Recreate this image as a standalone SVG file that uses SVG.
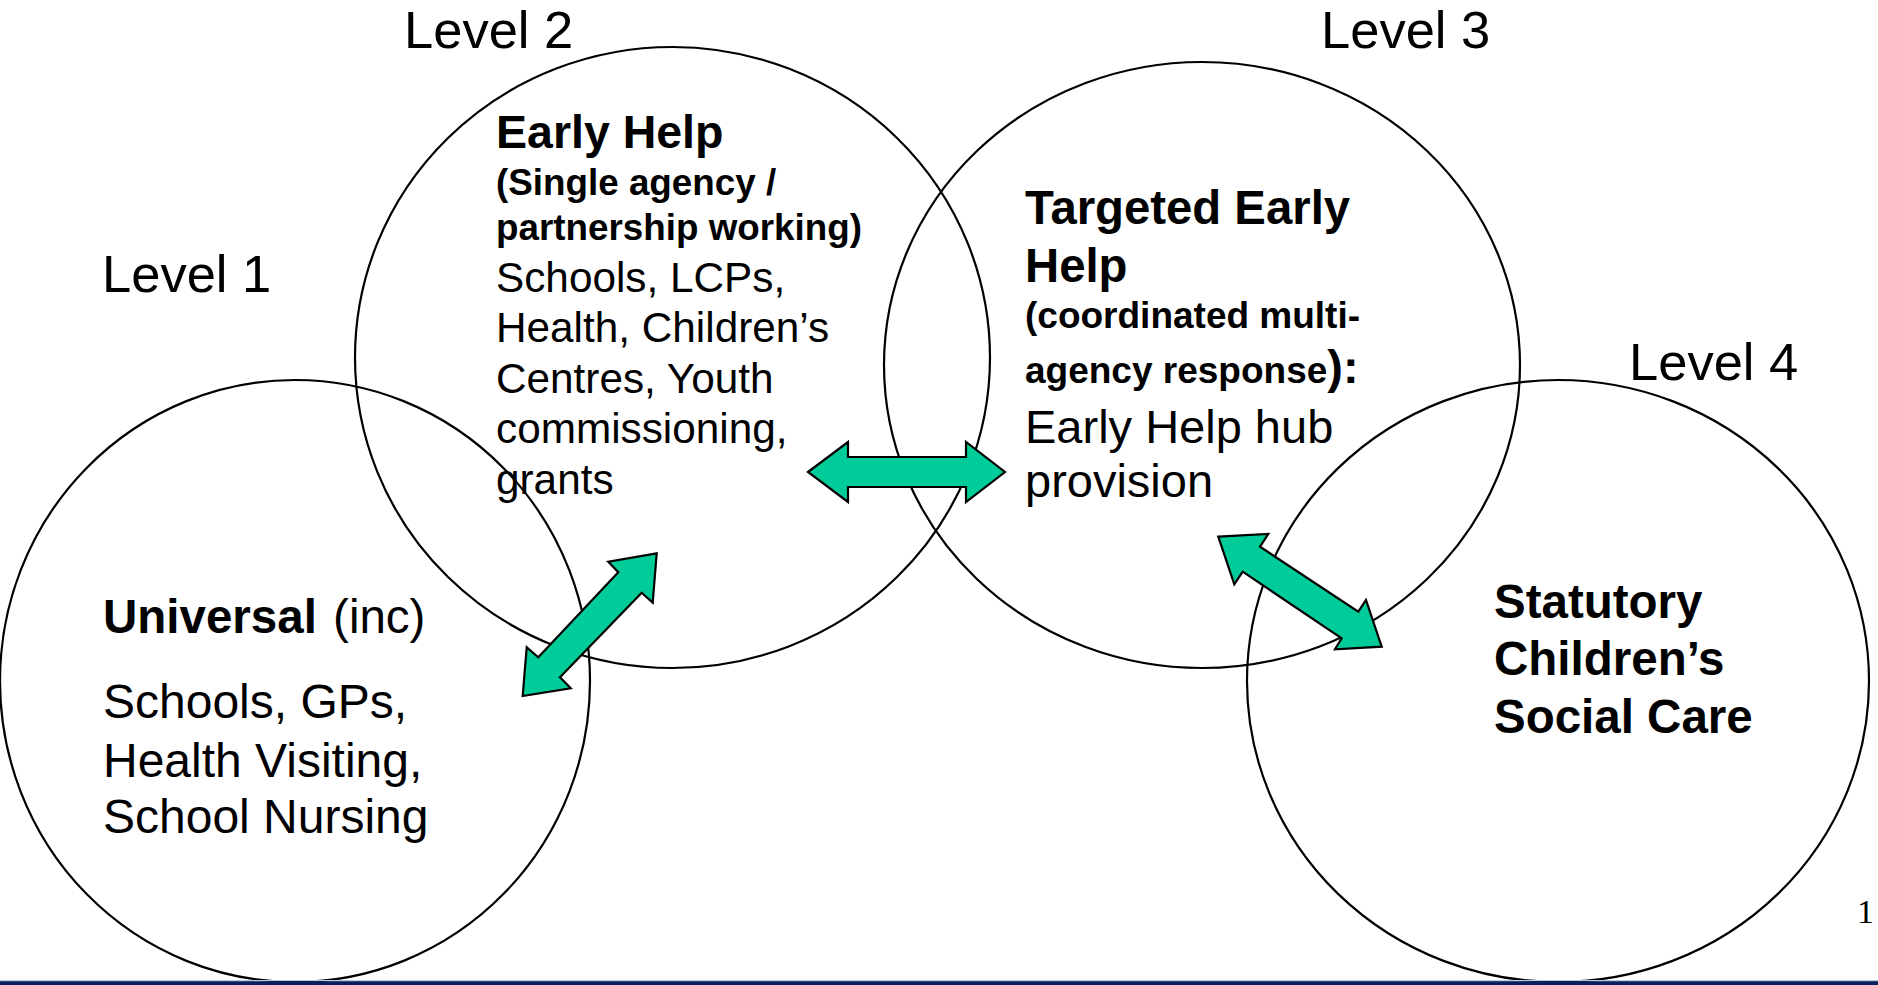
<svg xmlns="http://www.w3.org/2000/svg" width="1878" height="985" viewBox="0 0 1878 985">
<style>
.c{fill:none;stroke:#000;stroke-width:2.2}
.t{font-family:"Liberation Sans",Arial,sans-serif;fill:#000}
.b{font-weight:bold}
.lv{font-size:52.5px}
.arr{fill:#00CC99;stroke:#000;stroke-width:2.2;stroke-linejoin:miter}
</style>
<rect width="1878" height="985" fill="#fff"/>
<g id="level1">
<ellipse class="c" cx="295" cy="681" rx="295" ry="301"/>
<text class="t lv" x="102" y="292">Level 1</text>
<text class="t" x="103" y="633" font-size="47.5"><tspan class="b">Universal</tspan> <tspan dx="3">(inc)</tspan></text>
<text class="t" font-size="48"><tspan x="103" y="718">Schools, GPs,</tspan><tspan x="103" y="777">Health Visiting,</tspan><tspan x="103" y="833">School Nursing</tspan></text>
</g>
<g id="level2">
<ellipse class="c" cx="672.5" cy="357.5" rx="317.5" ry="310.5"/>
<text class="t lv" x="404" y="48">Level 2</text>
<text class="t b" x="496" y="148" font-size="46.5">Early Help</text>
<text class="t b" font-size="36.8"><tspan x="496" y="195">(Single agency /</tspan><tspan x="496" y="240">partnership working)</tspan></text>
<text class="t" font-size="42.3"><tspan x="496" y="292">Schools, LCPs,</tspan><tspan x="496" y="342">Health, Children’s</tspan><tspan x="496" y="393">Centres, Youth</tspan><tspan x="496" y="443">commissioning,</tspan><tspan x="496" y="494">grants</tspan></text>
</g>
<g id="level3">
<ellipse class="c" cx="1202" cy="365" rx="318" ry="303"/>
<text class="t lv" x="1321" y="48">Level 3</text>
<text class="t b" font-size="47.3"><tspan x="1025" y="224">Targeted Early</tspan><tspan x="1025" y="282">Help</tspan></text>
<text class="t b" x="1025" y="328" font-size="37">(coordinated multi-</text>
<text class="t b" x="1025" y="383" font-size="37">agency response<tspan font-size="47">):</tspan></text>
<text class="t" font-size="47"><tspan x="1025" y="443">Early Help hub</tspan><tspan x="1025" y="497">provision</tspan></text>
</g>
<g id="level4">
<ellipse class="c" cx="1558" cy="681" rx="311" ry="301"/>
<text class="t lv" x="1629" y="380">Level 4</text>
<text class="t b" font-size="47.5"><tspan x="1494" y="618">Statutory</tspan><tspan x="1494" y="675">Children’s</tspan><tspan x="1494" y="733">Social Care</tspan></text>
</g>
<g id="connectors">
<polygon class="arr" points="808,472 848,442 848,457 966,457 966,442 1005,472 966,502 966,487 848,487 848,502"/>
<polygon class="arr" points="522.7,696 526.7,647.3 538.3,657.3 618.3,572.3 608.3,561.7 656.7,553.3 652.7,602.7 641.7,592.7 560,677.3 570.7,688.3"/>
<polygon class="arr" points="1218.3,536.7 1268.3,534 1260,546.7 1358.3,611.7 1366,600 1381.7,646.7 1335,649.3 1341.7,638.3 1242.7,571.7 1234.3,584.3"/>
</g>
<text x="1857" y="923" font-family="'Liberation Serif','Times New Roman',serif" font-size="34" fill="#000">1</text>
<rect x="0" y="980" width="1878" height="1.2" fill="#b8c8e0"/>
<rect x="0" y="981.2" width="1878" height="3.8" fill="#0b1f5c"/>
</svg>
